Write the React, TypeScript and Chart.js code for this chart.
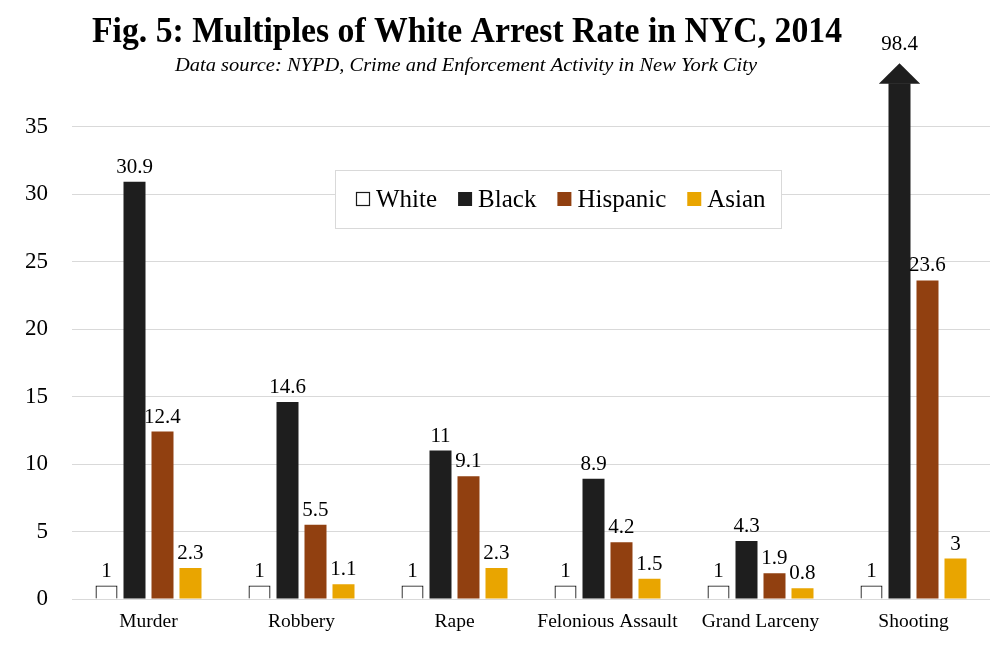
import { useEffect, useRef } from "react";
import { Chart, registerables } from "chart.js";

Chart.register(...registerables);

const categories = ["Murder", "Robbery", "Rape", "Felonious Assault", "Grand Larceny", "Shooting"];
const seriesNames = ["White", "Black", "Hispanic", "Asian"];
const whiteValues = [1, 1, 1, 1, 1, 1];
const blackValues = [30.9, 14.6, 11, 8.9, 4.3, 98.4];
const hispanicValues = [12.4, 5.5, 9.1, 4.2, 1.9, 23.6];
const asianValues = [2.3, 1.1, 2.3, 1.5, 0.8, 3];
const yTickValues = [0, 5, 10, 15, 20, 25, 30, 35];
const yAxisMax = 38.2;

const titleText = "Fig. 5: Multiples of White Arrest Rate in NYC, 2014";
const subtitleText = "Data source: NYPD, Crime and Enforcement Activity in New York City";

const SERIF = '"Liberation Serif", "Times New Roman", serif';
const fillColors = ["#ffffff", "#1e1e1e", "#914010", "#e9a500"];
const borderColors = ["#1a1a1a", "#1e1e1e", "#914010", "#e9a500"];

function fitText(ctx: CanvasRenderingContext2D, text: string, font: string, cx: number, y: number, width: number) {
  ctx.save();
  ctx.font = font;
  const w = ctx.measureText(text).width;
  ctx.translate(cx, y);
  ctx.scale(width / w, 1);
  ctx.textAlign = "center";
  ctx.textBaseline = "alphabetic";
  ctx.fillStyle = "#000";
  ctx.fillText(text, 0, 0);
  ctx.restore();
}

const decorPlugin = {
  id: "decor",
  afterDraw(chart: any) {
    const ctx: CanvasRenderingContext2D = chart.ctx;
    // titles
    fitText(ctx, titleText, `bold 35px ${SERIF}`, 467, 42, 750);
    fitText(ctx, subtitleText, `italic 19px ${SERIF}`, 466, 71, 582);

    // value labels + overflow arrow
    const yScale = chart.scales.y;
    const area = chart.chartArea;
    chart.data.datasets.forEach((ds: any, di: number) => {
      const meta = chart.getDatasetMeta(di);
      meta.data.forEach((bar: any, i: number) => {
        const v = ds.data[i];
        const props = bar.getProps(["x", "y", "width"], true);
        ctx.save();
        ctx.font = `21px ${SERIF}`;
        ctx.fillStyle = "#000";
        ctx.textAlign = "center";
        ctx.textBaseline = "alphabetic";
        if (v > yScale.max) {
          const half = props.width * 0.94;
          const tipY = area.top - 20;
          ctx.fillStyle = fillColors[di];
          ctx.beginPath();
          ctx.moveTo(props.x - half, area.top + 0.5);
          ctx.lineTo(props.x, tipY);
          ctx.lineTo(props.x + half, area.top + 0.5);
          ctx.closePath();
          ctx.fill();
          ctx.fillStyle = "#000";
          ctx.fillText(String(v), props.x, tipY - 13);
        } else {
          ctx.fillText(String(v), props.x, props.y - 9);
        }
        ctx.restore();
      });
    });

    // legend
    ctx.save();
    const box = { l: 335.5, t: 170.5, r: 781.5, b: 228.5 };
    ctx.fillStyle = "#ffffff";
    ctx.fillRect(box.l, box.t, box.r - box.l, box.b - box.t);
    ctx.strokeStyle = "#d9d9d9";
    ctx.lineWidth = 1;
    ctx.strokeRect(box.l, box.t, box.r - box.l, box.b - box.t);
    ctx.font = `25px ${SERIF}`;
    ctx.textBaseline = "alphabetic";
    ctx.textAlign = "left";
    let x = 356;
    const sq = 14;
    seriesNames.forEach((name, i) => {
      if (i === 0) {
        ctx.fillStyle = "#fff";
        ctx.fillRect(x + 0.5, 192.5, sq - 1, sq - 1);
        ctx.strokeStyle = "#1a1a1a";
        ctx.lineWidth = 1.2;
        ctx.strokeRect(x + 0.5, 192.5, sq - 1, sq - 1);
      } else {
        ctx.fillStyle = fillColors[i];
        ctx.fillRect(x, 192, sq, sq);
      }
      ctx.fillStyle = "#000";
      const tx = x + sq + 6;
      ctx.fillText(name, tx, 207);
      x = tx + ctx.measureText(name).width + 21;
    });
    ctx.restore();
  },
};

export default function App() {
  const canvasRef = useRef<HTMLCanvasElement | null>(null);

  useEffect(() => {
    if (!canvasRef.current) return;
    const seriesValues = [whiteValues, blackValues, hispanicValues, asianValues];
    const chart = new Chart(canvasRef.current, {
      type: "bar",
      data: {
        labels: categories,
        datasets: seriesNames.map((name, i) => ({
          label: name,
          data: seriesValues[i],
          backgroundColor: fillColors[i],
          borderColor: borderColors[i],
          borderWidth: i === 0 ? 1.3 : 0,
          categoryPercentage: 0.732,
          barPercentage: 0.786,
          clip: 0,
        })),
      },
      options: {
        animation: false,
        responsive: false,
        devicePixelRatio: 1,
        layout: { padding: { top: 83.3, right: 12, left: 0, bottom: 0 } },
        plugins: {
          legend: { display: false },
          title: { display: false },
          tooltip: { enabled: false },
        },
        scales: {
          x: {
            grid: { display: false, drawTicks: false },
            border: { display: false },
            ticks: { color: "#000", font: { family: SERIF, size: 19.5 }, padding: 11 },
            afterFit: (s: any) => {
              s.height = 53;
            },
          },
          y: {
            min: 0,
            max: yAxisMax,
            grid: { color: "#d9d9d9", lineWidth: 1, drawTicks: false },
            border: { display: false },
            ticks: { color: "#000", font: { family: SERIF, size: 23 }, padding: 24, stepSize: 5 },
            afterBuildTicks: (s: any) => {
              s.ticks = yTickValues.map((v) => ({ value: v }));
            },
            afterFit: (s: any) => {
              s.width = 72;
            },
          },
        },
      },
      plugins: [decorPlugin],
    });
    return () => chart.destroy();
  }, []);

  return (
    <div style={{ position: "absolute", left: 0, top: 0, width: 1002, height: 652, background: "#fff" }}>
      <canvas ref={canvasRef} width={1002} height={652} style={{ width: 1002, height: 652, display: "block" }} />
    </div>
  );
}
